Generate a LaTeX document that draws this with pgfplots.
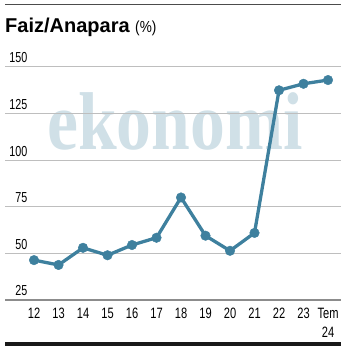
\documentclass[border=0pt]{standalone}
\usepackage{pgfplots}
\pgfplotsset{compat=1.18}
\usepackage{fontspec}
\setmainfont{Liberation Sans}
\newfontfamily\cond[FakeStretch=0.74]{Liberation Sans}
\newfontfamily\semicond[FakeStretch=0.85]{Liberation Sans}
\newfontfamily\wm[FakeStretch=0.85]{Liberation Serif}
\definecolor{linecol}{RGB}{62,128,158}
\definecolor{gridcol}{RGB}{190,190,190}
\definecolor{wmcol}{RGB}{208,224,231}
\begin{document}
\begin{tikzpicture}[x=1pt,y=1pt]
\useasboundingbox (0,0) rectangle (353,362);
% top rule
\draw[line width=1pt, color=black!70] (5,357) -- (341,357);
% title
\node[anchor=base west, inner sep=0pt] at (5,329) {\fontsize{20}{24}\selectfont\bfseries Faiz/Anapara\ {\semicond\mdseries\fontsize{16}{18}\selectfont(\%)}};
% watermark
\node[anchor=base west, inner sep=0pt, text=wmcol] at (47,212) {\wm\bfseries\fontsize{82}{82}\selectfont ekonomi};
% bottom bar
\draw[line width=4pt, color=black!90] (5,17.5) -- (341,17.5);
\begin{axis}[
  at={(5pt,62pt)}, anchor=south west,
  scale only axis, width=336pt, height=233pt,
  xmin=-1.184, xmax=12.53, ymin=25, ymax=150,
  axis line style={draw=none},
  major tick length=0pt,
  ytick={25,50,75,100,125,150},
  ymajorgrids, grid style={color=gridcol, line width=1pt},
  xtick={0,...,12},
  xticklabels={12,13,14,15,16,17,18,19,20,21,22,23,{Tem\\24}},
  /pgf/number format/assume math mode=true,
  yticklabel style={anchor=south east, inner sep=0pt, xshift=22.5pt, yshift=3.7pt, font=\cond\fontsize{14.5}{16}\selectfont},
  xticklabel style={anchor=north, inner sep=0pt, yshift=-8pt, align=center, font=\cond\fontsize{15}{19}\selectfont},
  clip=false,
]
\draw[color=black!45, line width=1.3pt] (rel axis cs:0,0) -- (rel axis cs:1,0);
\addplot[color=linecol, line width=3.3pt, mark=*, mark size=4.8pt, mark options={solid, fill=linecol, draw=linecol, line width=0.4pt}] coordinates {
(0,46.4) (1,43.8) (2,53) (3,49) (4,54.5) (5,58.4) (6,80) (7,59.5) (8,51.4) (9,61) (10,137.5) (11,141) (12,143)
};
\end{axis}
\end{tikzpicture}
\end{document}
